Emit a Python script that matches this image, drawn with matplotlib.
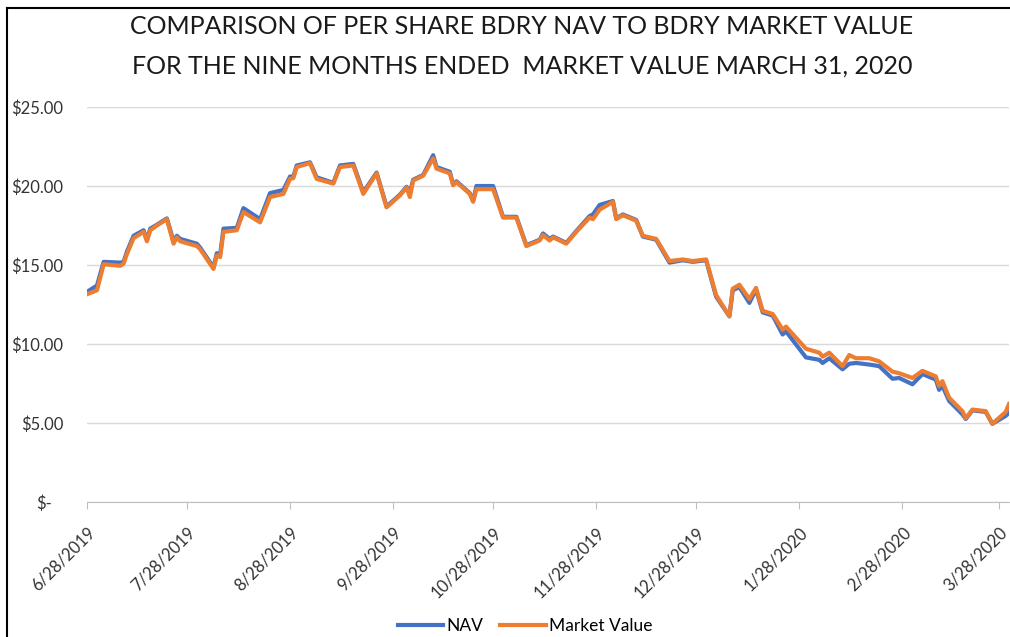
import matplotlib
matplotlib.use("Agg")
import matplotlib.pyplot as plt
import matplotlib.transforms as mtransforms
import pandas as pd

plt.rcParams['font.family'] = ['Lato', 'DejaVu Sans']

# values
dates = [
    "2019-06-28", "2019-07-01", "2019-07-03", "2019-07-08", "2019-07-09", "2019-07-10",
    "2019-07-12", "2019-07-15", "2019-07-16", "2019-07-17", "2019-07-19", "2019-07-22",
    "2019-07-24", "2019-07-25", "2019-07-26", "2019-07-31", "2019-08-01", "2019-08-05",
    "2019-08-06", "2019-08-07", "2019-08-08", "2019-08-12", "2019-08-14", "2019-08-19",
    "2019-08-22", "2019-08-26", "2019-08-28", "2019-08-29", "2019-08-30", "2019-09-03",
    "2019-09-05", "2019-09-10", "2019-09-12", "2019-09-16", "2019-09-19", "2019-09-23",
    "2019-09-26", "2019-09-30", "2019-10-02", "2019-10-03", "2019-10-04", "2019-10-07",
    "2019-10-10", "2019-10-11", "2019-10-15", "2019-10-16", "2019-10-17", "2019-10-21",
    "2019-10-22", "2019-10-23", "2019-10-28", "2019-10-31", "2019-11-04", "2019-11-07",
    "2019-11-11", "2019-11-12", "2019-11-14", "2019-11-15", "2019-11-19", "2019-11-22",
    "2019-11-26", "2019-11-27", "2019-11-29", "2019-12-03", "2019-12-04", "2019-12-06",
    "2019-12-10", "2019-12-12", "2019-12-16", "2019-12-20", "2019-12-24", "2019-12-27",
    "2019-12-31", "2020-01-03", "2020-01-07", "2020-01-08", "2020-01-10", "2020-01-13",
    "2020-01-15", "2020-01-17", "2020-01-20", "2020-01-22", "2020-01-23", "2020-01-24",
    "2020-01-30", "2020-02-03", "2020-02-04", "2020-02-06", "2020-02-10", "2020-02-12",
    "2020-02-14", "2020-02-18", "2020-02-21", "2020-02-25", "2020-02-27", "2020-03-02",
    "2020-03-05", "2020-03-09", "2020-03-10", "2020-03-11", "2020-03-13", "2020-03-17",
    "2020-03-18", "2020-03-20", "2020-03-24", "2020-03-26", "2020-03-30", "2020-03-31",
]

nav = [
    13.30, 13.70, 15.20, 15.15, 15.20, 15.85,
    16.85, 17.20, 16.60, 17.30, 17.55, 17.95,
    16.50, 16.85, 16.65, 16.35, 16.10, 14.85,
    15.75, 15.65, 17.30, 17.35, 18.60, 17.90,
    19.55, 19.75, 20.60, 20.60, 21.30, 21.50,
    20.55, 20.20, 21.30, 21.40, 19.60, 20.85,
    18.70, 19.45, 19.95, 19.60, 20.40, 20.70,
    21.95, 21.20, 20.90, 20.10, 20.30, 19.55,
    19.05, 20.00, 20.00, 18.05, 18.05, 16.25,
    16.60, 17.00, 16.65, 16.80, 16.40, 17.15,
    18.10, 18.20, 18.80, 19.05, 17.95, 18.20,
    17.85, 16.80, 16.60, 15.15, 15.30, 15.20,
    15.30, 13.00, 11.75, 13.40, 13.60, 12.60,
    13.45, 12.00, 11.80, 11.00, 10.60, 10.80,
    9.15, 9.00, 8.80, 9.10, 8.40, 8.75,
    8.80, 8.70, 8.60, 7.80, 7.85, 7.45,
    8.10, 7.75, 7.10, 7.35, 6.40, 5.55,
    5.25, 5.80, 5.70, 4.95, 5.45, 5.65,
]

market_value = [
    13.15, 13.40, 15.05, 14.95, 15.10, 15.70,
    16.70, 17.10, 16.50, 17.20, 17.50, 17.90,
    16.35, 16.75, 16.50, 16.20, 16.00, 14.75,
    15.60, 15.50, 17.10, 17.20, 18.35, 17.70,
    19.30, 19.50, 20.45, 20.50, 21.20, 21.45,
    20.45, 20.15, 21.20, 21.30, 19.50, 20.80,
    18.65, 19.40, 19.90, 19.30, 20.35, 20.65,
    21.75, 21.10, 20.80, 20.05, 20.25, 19.50,
    19.00, 19.80, 19.80, 18.00, 18.00, 16.20,
    16.55, 16.90, 16.55, 16.75, 16.35, 17.10,
    18.00, 17.90, 18.50, 19.00, 17.90, 18.15,
    17.80, 16.85, 16.65, 15.25, 15.35, 15.25,
    15.35, 13.10, 11.75, 13.50, 13.75, 12.85,
    13.55, 12.10, 11.90, 11.25, 10.90, 11.10,
    9.70, 9.45, 9.20, 9.45, 8.60, 9.30,
    9.10, 9.10, 8.90, 8.25, 8.15, 7.85,
    8.30, 7.95, 7.35, 7.65, 6.60, 5.75,
    5.30, 5.85, 5.75, 4.95, 5.70, 6.20,
]

tick_dates = ["2019-06-28", "2019-07-28", "2019-08-28", "2019-09-28", "2019-10-28",
              "2019-11-28", "2019-12-28", "2020-01-28", "2020-02-28", "2020-03-28"]
y_ticks = [0, 5, 10, 15, 20, 25]

x = pd.to_datetime(dates)
xt = pd.to_datetime(tick_dates)

fig = plt.figure(figsize=(10.10, 6.37), dpi=100)
ax = fig.add_axes([87 / 1010, 1 - 502 / 637, 922 / 1010, 395 / 637])

ax.plot(x, nav, color="#4472C4", lw=3.0, label="NAV", solid_joinstyle="round")
ax.plot(x, market_value, color="#ED7D31", lw=3.0, label="Market Value", solid_joinstyle="round")

ax.set_xlim(pd.Timestamp("2019-06-28"), pd.Timestamp("2020-03-31"))
ax.set_ylim(0, 25)
ax.set_xticks(xt)
ax.set_xticklabels([f"{d.month}/{d.day}/{d.year}" for d in xt], rotation=45,
                   ha="right", va="top", rotation_mode="anchor", fontsize=12, color="#333333")
ax.set_yticks(y_ticks)
ax.set_yticklabels(["$-" if v == 0 else f"${v:.2f}" for v in y_ticks], fontsize=12, color="#333333")
ax.tick_params(axis="y", length=0, pad=17)
ax.tick_params(axis="x", length=5, color="#BFBFBF", pad=11)

# accounting format puts the dash a bit left of the numbers
lbl = ax.get_yticklabels()[0]
lbl.set_transform(lbl.get_transform() + mtransforms.ScaledTranslation(-8 / 72, 0, fig.dpi_scale_trans))

ax.grid(axis="y", color="#D9D9D9", lw=1)
ax.set_axisbelow(True)
for s in ["top", "right", "left"]:
    ax.spines[s].set_visible(False)
ax.spines["bottom"].set_color("#BFBFBF")

fig.text(522 / 1010, 1 - 27 / 637, "COMPARISON OF PER SHARE BDRY NAV TO BDRY MARKET VALUE",
         ha="center", va="center", fontsize=18, color="#1a1a1a")
fig.text(522 / 1010, 1 - 66 / 637, "FOR THE NINE MONTHS ENDED  MARKET VALUE MARCH 31, 2020",
         ha="center", va="center", fontsize=18, color="#1a1a1a")

fig.legend(loc="center", bbox_to_anchor=(525 / 1010, 1 - 626 / 637), ncol=2, frameon=False,
           fontsize=12.5, handlelength=2.6, columnspacing=1.0, handletextpad=0.2)

# chart frame (left and top edges visible in the screenshot)
fig.add_artist(plt.Line2D([7 / 1010, 7 / 1010], [0, 1 - 8 / 637], color="black", lw=1.5))
fig.add_artist(plt.Line2D([7 / 1010, 1], [1 - 8 / 637, 1 - 8 / 637], color="black", lw=1.5))

fig.savefig("out.png", dpi=100)
